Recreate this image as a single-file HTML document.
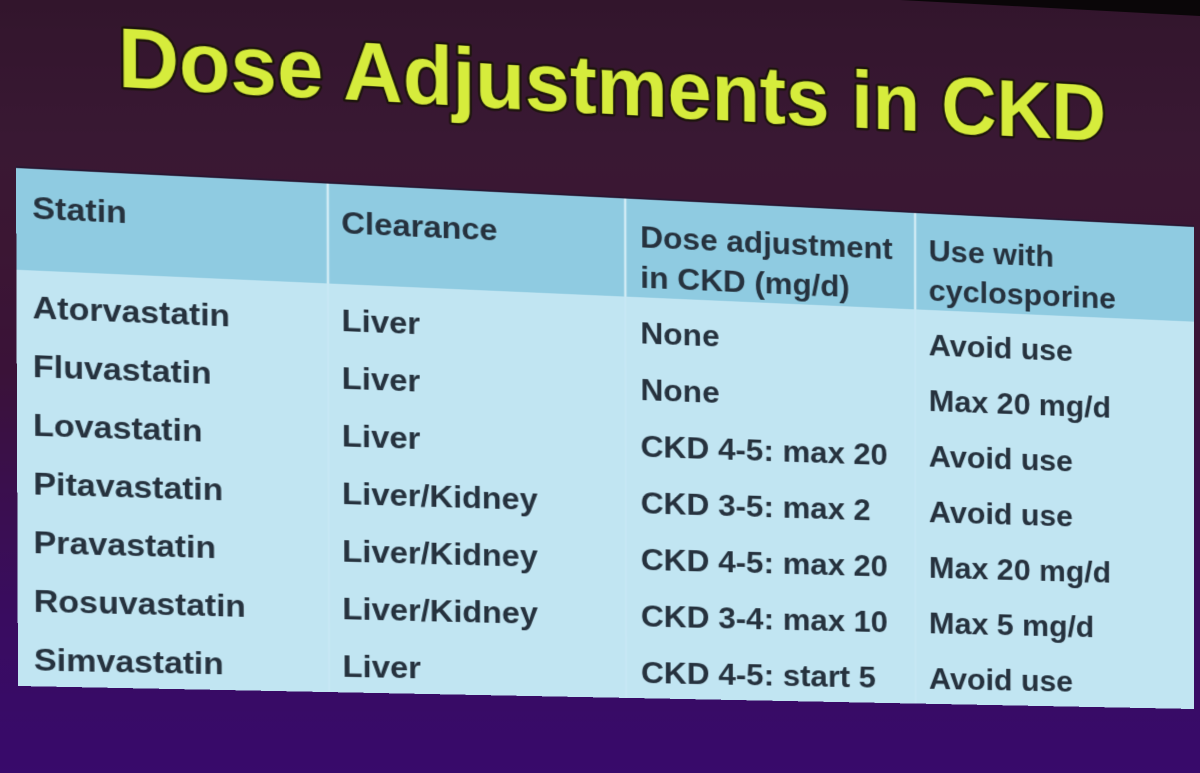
<!DOCTYPE html>
<html>
<head>
<meta charset="utf-8">
<style>
  html, body { margin:0; padding:0; }
  body {
    width:1200px; height:773px; overflow:hidden; position:relative;
    background: linear-gradient(to bottom, #32152c 0%, #391833 18%, #3b1633 32%, #3a1238 48%, #3a0f4c 62%, #390c60 80%, #380a6b 100%);
  }
  #wedge { position:absolute; left:0; top:0; width:1200px; height:773px; }
  #slide {
    position:absolute; left:0; top:0; width:1180px; height:720px;
    transform-origin:0 0;
    transform: matrix3d(1.073798, 0.064353, 0, 0.000063227,
                        0.003905, 0.998398, 0, 0.0000032706,
                        0, 0, 1, 0,
                        15.219, -31.6796, 0, 0.99934588);
  }
  #slide svg { display:block; }
  .t { font-family:"Liberation Sans", Arial, sans-serif; font-weight:bold; font-size:32px; fill:#26323e; }
  .title { font-family:"Liberation Sans", Arial, sans-serif; font-weight:bold; font-size:85px; fill:#d6ec3c; stroke:#1c140c; stroke-width:5px; paint-order:stroke; stroke-linejoin:round; }
</style>
</head>
<body>
<svg id="wedge" width="1200" height="773" viewBox="0 0 1200 773">
  <polygon points="900,0 1200,0 1200,16" fill="#0a0608"/>
</svg>
<div id="slide">
<svg width="1180" height="720" viewBox="0 -200 1180 720">
  <text class="title" x="96" y="-87" textLength="990" lengthAdjust="spacingAndGlyphs">Dose Adjustments in CKD</text>

  <rect x="-1" y="-2" width="1182" height="524" fill="#1c1630" opacity="0.6"/>
  <rect x="0" y="0" width="1180" height="520" fill="#c1e5f2"/>
  <rect x="0" y="0" width="1180" height="102" fill="#8fcbe1"/>
  <g stroke="#cfeaf4" stroke-width="2.5">
    <line x1="296" y1="0" x2="296" y2="102"/>
    <line x1="589" y1="0" x2="589" y2="102"/>
    <line x1="885" y1="0" x2="885" y2="102"/>
  </g>
  <g stroke="#cbe9f5" stroke-width="1.5" opacity="0.7">
    <line x1="296" y1="102" x2="296" y2="520"/>
    <line x1="589" y1="102" x2="589" y2="520"/>
    <line x1="885" y1="102" x2="885" y2="520"/>
  </g>

  <text class="t" x="15" y="50">Statin</text>
  <text class="t" x="309" y="50">Clearance</text>
  <text class="t" x="604" y="50">Dose adjustment</text>
  <text class="t" x="604" y="92">in CKD (mg/d)</text>
  <text class="t" x="899" y="50">Use with</text>
  <text class="t" x="899" y="92">cyclosporine</text>

  <text class="t" x="15" y="150">Atorvastatin</text>
  <text class="t" x="309" y="150">Liver</text>
  <text class="t" x="604" y="150">None</text>
  <text class="t" x="899" y="150">Avoid use</text>

  <text class="t" x="15" y="209">Fluvastatin</text>
  <text class="t" x="309" y="209">Liver</text>
  <text class="t" x="604" y="209">None</text>
  <text class="t" x="899" y="209">Max 20 mg/d</text>

  <text class="t" x="15" y="268">Lovastatin</text>
  <text class="t" x="309" y="268">Liver</text>
  <text class="t" x="604" y="268">CKD 4-5: max 20</text>
  <text class="t" x="899" y="268">Avoid use</text>

  <text class="t" x="15" y="327">Pitavastatin</text>
  <text class="t" x="309" y="327">Liver/Kidney</text>
  <text class="t" x="604" y="327">CKD 3-5: max 2</text>
  <text class="t" x="899" y="327">Avoid use</text>

  <text class="t" x="15" y="386">Pravastatin</text>
  <text class="t" x="309" y="386">Liver/Kidney</text>
  <text class="t" x="604" y="386">CKD 4-5: max 20</text>
  <text class="t" x="899" y="386">Max 20 mg/d</text>

  <text class="t" x="15" y="445">Rosuvastatin</text>
  <text class="t" x="309" y="445">Liver/Kidney</text>
  <text class="t" x="604" y="445">CKD 3-4: max 10</text>
  <text class="t" x="899" y="445">Max 5 mg/d</text>

  <text class="t" x="15" y="504">Simvastatin</text>
  <text class="t" x="309" y="504">Liver</text>
  <text class="t" x="604" y="504">CKD 4-5: start 5</text>
  <text class="t" x="899" y="504">Avoid use</text>
</svg>
</div>
</body>
</html>
